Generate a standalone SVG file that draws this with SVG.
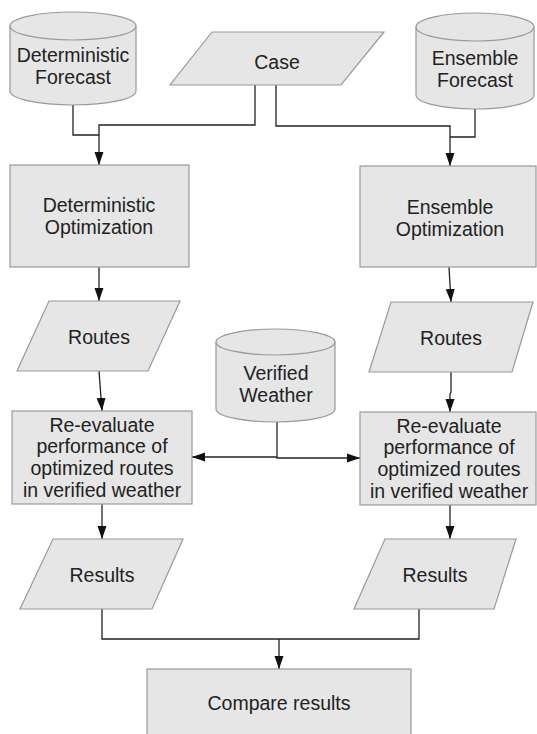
<svg xmlns="http://www.w3.org/2000/svg" width="537" height="734" viewBox="0 0 537 734">
<style>
.n{fill:#e6e6e6;stroke:#9a9a9a;stroke-width:1.2}
.f{fill:none;stroke:#9a9a9a;stroke-width:1.2}
.t{font-family:"Liberation Sans",Arial,sans-serif;font-size:19.5px;fill:#222;text-anchor:middle}
.c{fill:none;stroke:#222;stroke-width:1.3}
</style>
<defs>
<marker id="ah" markerUnits="userSpaceOnUse" markerWidth="13" markerHeight="10" refX="13" refY="5" orient="auto">
<path d="M0,0.5 L13,5 L0,9.5 Z" fill="#111"/>
</marker>
</defs>
<rect width="537" height="734" fill="#fff"/>
<g id="connectors">
<path class="c" d="M255,85 V125 H99 V165" marker-end="url(#ah)"/>
<path class="c" d="M73,105 V135 H99"/>
<path class="c" d="M276,85 V126 H450 V166" marker-end="url(#ah)"/>
<path class="c" d="M475,109 V137 H450"/>
<path class="c" d="M99,267 V301" marker-end="url(#ah)"/>
<path class="c" d="M449,267 L451,302" marker-end="url(#ah)"/>
<path class="c" d="M99,371 L102,411" marker-end="url(#ah)"/>
<path class="c" d="M451,372 V392 L450,394 V412" marker-end="url(#ah)"/>
<path class="c" d="M277,422 V458 H360" marker-end="url(#ah)"/>
<path class="c" d="M277,457 H192" marker-end="url(#ah)"/>
<path class="c" d="M102,504 V539" marker-end="url(#ah)"/>
<path class="c" d="M450,505 V539" marker-end="url(#ah)"/>
<path class="c" d="M102,609 V639 H419 V609"/>
<path class="c" d="M279,639 V669" marker-end="url(#ah)"/>
</g>
<g id="det-forecast">
<path class="n" d="M10,26 A63,14 0 0 1 136,26 L136,91 A63,14 0 0 1 10,91 Z"/>
<path class="f" d="M10,26 A63,14 0 0 0 136,26"/>
<text class="t" x="73" y="62">Deterministic</text>
<text class="t" x="73" y="84">Forecast</text>
</g>
<g id="case">
<path class="n" d="M212,32 L384,32 L341,85 L170,85 Z"/>
<text class="t" x="277" y="69">Case</text>
</g>
<g id="ens-forecast">
<path class="n" d="M416,27 A59,14 0 0 1 534,27 L534,95 A59,14 0 0 1 416,95 Z"/>
<path class="f" d="M416,27 A59,14 0 0 0 534,27"/>
<text class="t" x="475" y="65">Ensemble</text>
<text class="t" x="475" y="87">Forecast</text>
</g>
<g id="det-opt">
<rect class="n" x="10" y="165" width="179" height="102"/>
<text class="t" x="99" y="212">Deterministic</text>
<text class="t" x="99" y="234">Optimization</text>
</g>
<g id="ens-opt">
<rect class="n" x="360" y="166" width="176" height="101"/>
<text class="t" x="450" y="214">Ensemble</text>
<text class="t" x="450" y="236">Optimization</text>
</g>
<g id="det-routes">
<path class="n" d="M49,301 L180,301 L148,371 L17,371 Z"/>
<text class="t" x="99" y="344">Routes</text>
</g>
<g id="ens-routes">
<path class="n" d="M391,302 L533,302 L512,372 L369,372 Z"/>
<text class="t" x="451" y="345">Routes</text>
</g>
<g id="verified-weather">
<path class="n" d="M216,342 A59.5,13 0 0 1 335,342 L335,409 A59.5,13 0 0 1 216,409 Z"/>
<path class="f" d="M216,342 A59.5,13 0 0 0 335,342"/>
<text class="t" x="276" y="380">Verified</text>
<text class="t" x="276" y="402">Weather</text>
</g>
<g id="det-reeval">
<rect class="n" x="12" y="411" width="180" height="93"/>
<text class="t" x="102" y="432">Re-evaluate</text>
<text class="t" x="102" y="453">performance of</text>
<text class="t" x="102" y="475">optimized routes</text>
<text class="t" x="102" y="497">in verified weather</text>
</g>
<g id="ens-reeval">
<rect class="n" x="360" y="412" width="176" height="93"/>
<text class="t" x="449" y="433">Re-evaluate</text>
<text class="t" x="449" y="454">performance of</text>
<text class="t" x="449" y="476">optimized routes</text>
<text class="t" x="449" y="498">in verified weather</text>
</g>
<g id="det-results">
<path class="n" d="M53,539 L183,539 L152,609 L20,609 Z"/>
<text class="t" x="102" y="582">Results</text>
</g>
<g id="ens-results">
<path class="n" d="M385,539 L516,539 L494,609 L354,609 Z"/>
<text class="t" x="435" y="582">Results</text>
</g>
<g id="compare">
<rect class="n" x="147" y="669" width="264" height="75"/>
<text class="t" x="279" y="710">Compare results</text>
</g>
</svg>
